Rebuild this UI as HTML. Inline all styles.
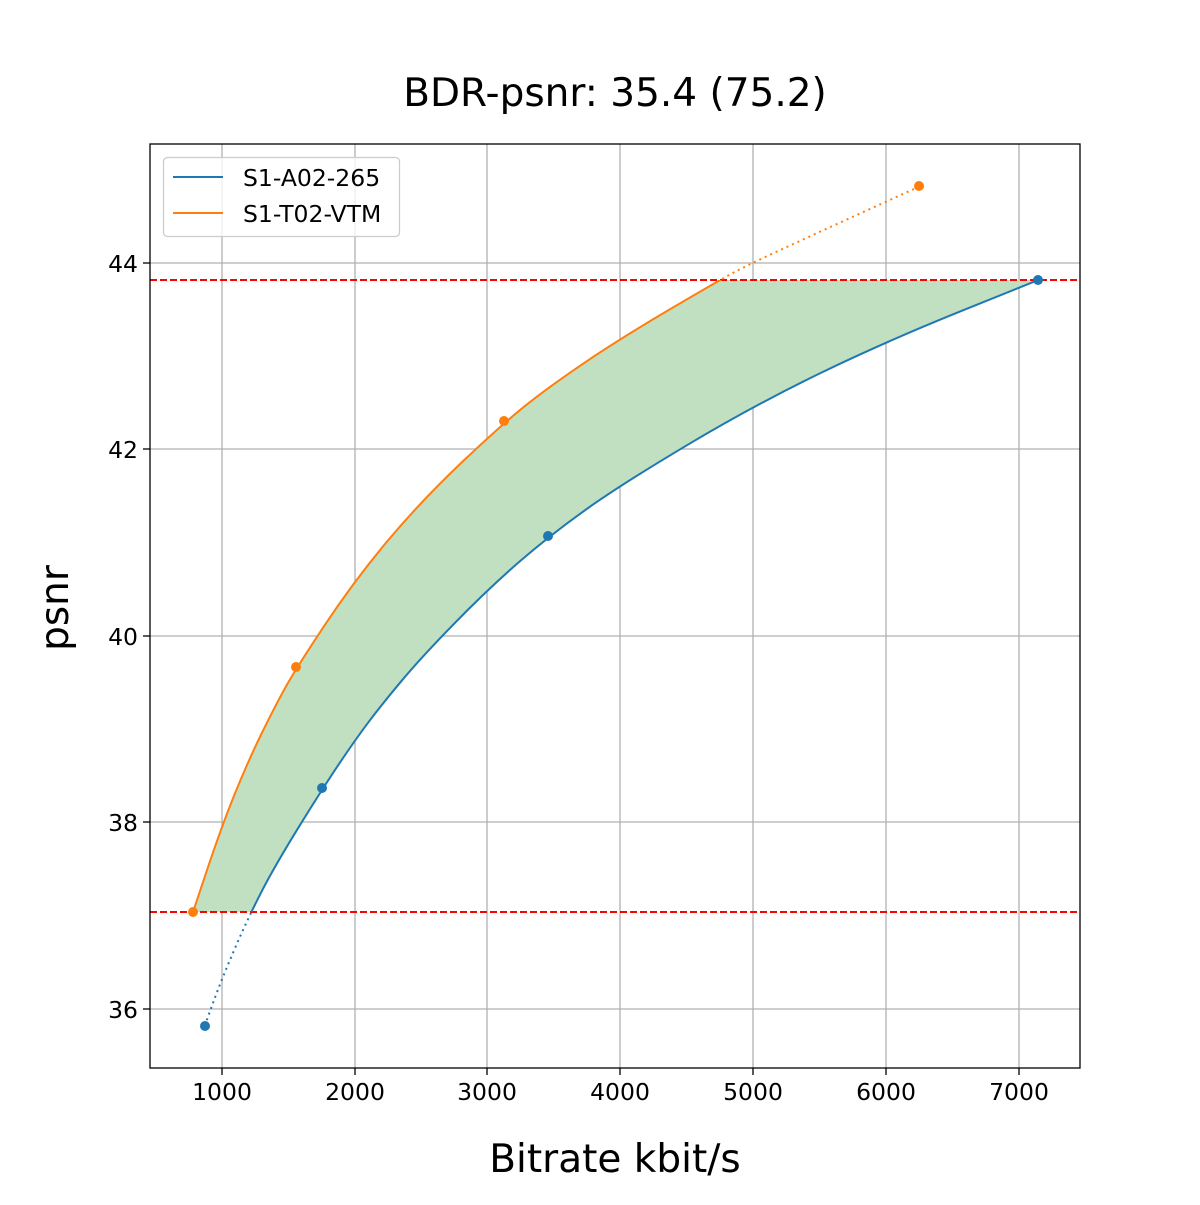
<!DOCTYPE html>
<html><head><meta charset="utf-8"><style>
html,body{margin:0;padding:0;background:#fff}
svg text{font-family:"DejaVu Sans","Liberation Sans",sans-serif;fill:#000}
</style></head><body>
<svg width="1200" height="1200" viewBox="0 0 1200 1200" xmlns="http://www.w3.org/2000/svg">
<defs>
<clipPath id="band"><rect x="150" y="280" width="930" height="632"/></clipPath>
<clipPath id="bsolid"><rect x="150" y="144" width="930" height="768"/></clipPath>
<clipPath id="bdot"><rect x="150" y="912" width="930" height="156"/></clipPath>
<clipPath id="osolid"><rect x="150" y="280" width="930" height="788"/></clipPath>
<clipPath id="odot"><rect x="150" y="144" width="930" height="136"/></clipPath>
<clipPath id="ax"><rect x="150" y="144" width="930" height="924"/></clipPath>
</defs>
<text x="615" y="106" font-size="39" text-anchor="middle">BDR-psnr: 35.4 (75.2)</text>
<g stroke="#b0b0b0" stroke-width="1.3">
<line x1="222" y1="144" x2="222" y2="1068"/><line x1="355" y1="144" x2="355" y2="1068"/>
<line x1="487" y1="144" x2="487" y2="1068"/><line x1="620" y1="144" x2="620" y2="1068"/>
<line x1="753" y1="144" x2="753" y2="1068"/><line x1="886" y1="144" x2="886" y2="1068"/>
<line x1="1019" y1="144" x2="1019" y2="1068"/>
<line x1="150" y1="1009" x2="1080" y2="1009"/><line x1="150" y1="822" x2="1080" y2="822"/>
<line x1="150" y1="636" x2="1080" y2="636"/><line x1="150" y1="449" x2="1080" y2="449"/>
<line x1="150" y1="263" x2="1080" y2="263"/>
</g>
<g clip-path="url(#ax)">
<path clip-path="url(#band)" fill="#c1e0c1" d="M193,912 L207.5,868.65 Q222,825.3 235.3,792.65 Q248.6,760 261.85,733 Q275.1,706 285.75,686.85 Q296.4,667.7 325.6,623.85 Q354.8,580 388,540.4 Q421.2,500.8 463.05,461.15 Q504.9,421.5 529.45,402.4 Q554,383.3 587.2,360.9 Q620.4,338.5 670.2,309.15 Q720,279.8 736.6,270.95 L1038.7,270 L1038.7,279.8 L962.35,310.55 Q886,341.3 819.6,373.5 Q753.2,405.7 686.8,445.3 Q620.4,484.9 584.55,510.55 Q548.7,536.2 518.15,562.8 Q487.6,589.4 454.4,623.4 Q421.2,657.4 401.3,681.2 Q381.4,705 368.1,722.7 Q354.8,740.4 338.85,764.2 Q322.9,788 299,826.7 Q275.1,865.4 261.85,891.05 Q248.6,916.7 235.3,947.45 Q222,978.2 213.35,1002 L204.7,1025.8 Z"/>
<line x1="150" y1="280" x2="1080" y2="280" stroke="#ff0000" stroke-width="2" stroke-dasharray="7,3"/>
<line x1="150" y1="912" x2="1080" y2="912" stroke="#ff0000" stroke-width="2" stroke-dasharray="7,3"/>
<g fill="none" stroke="#1f77b4" stroke-width="2">
<path clip-path="url(#bdot)" stroke-dasharray="2,4" d="M204.7,1025.8 L213.35,1002 Q222,978.2 235.3,947.45 Q248.6,916.7 261.85,891.05"/>
<path clip-path="url(#bsolid)" d="M204.7,1025.8 L213.35,1002 Q222,978.2 235.3,947.45 Q248.6,916.7 261.85,891.05 Q275.1,865.4 299,826.7 Q322.9,788 338.85,764.2 Q354.8,740.4 368.1,722.7 Q381.4,705 401.3,681.2 Q421.2,657.4 454.4,623.4 Q487.6,589.4 518.15,562.8 Q548.7,536.2 584.55,510.55 Q620.4,484.9 686.8,445.3 Q753.2,405.7 819.6,373.5 Q886,341.3 962.35,310.55 L1038.7,279.8"/>
</g>
<g fill="none" stroke="#ff7f0e" stroke-width="2">
<path clip-path="url(#odot)" stroke-dasharray="2,4" d="M670.2,309.15 Q720,279.8 736.6,270.95 Q753.2,262.1 836.2,224.35 L919.2,186.6"/>
<path clip-path="url(#osolid)" d="M193,912 L207.5,868.65 Q222,825.3 235.3,792.65 Q248.6,760 261.85,733 Q275.1,706 285.75,686.85 Q296.4,667.7 325.6,623.85 Q354.8,580 388,540.4 Q421.2,500.8 463.05,461.15 Q504.9,421.5 529.45,402.4 Q554,383.3 587.2,360.9 Q620.4,338.5 670.2,309.15 Q720,279.8 736.6,270.95"/>
</g>
<g fill="#1f77b4"><circle cx="205" cy="1026" r="5"/><circle cx="322" cy="788" r="5"/><circle cx="548" cy="536" r="5"/><circle cx="1038" cy="280" r="5"/></g>
<g fill="#ff7f0e"><circle cx="193" cy="912" r="5"/><circle cx="296" cy="667" r="5"/><circle cx="504" cy="421" r="5"/><circle cx="919" cy="186" r="5"/></g>
</g>
<rect x="150" y="144" width="930" height="924" fill="none" stroke="#000" stroke-width="1.3"/>
<g stroke="#000" stroke-width="1.3">
<line x1="222" y1="1068" x2="222" y2="1075"/><line x1="355" y1="1068" x2="355" y2="1075"/>
<line x1="487" y1="1068" x2="487" y2="1075"/><line x1="620" y1="1068" x2="620" y2="1075"/>
<line x1="753" y1="1068" x2="753" y2="1075"/><line x1="886" y1="1068" x2="886" y2="1075"/>
<line x1="1019" y1="1068" x2="1019" y2="1075"/>
<line x1="143" y1="1009" x2="150" y2="1009"/><line x1="143" y1="822" x2="150" y2="822"/>
<line x1="143" y1="636" x2="150" y2="636"/><line x1="143" y1="449" x2="150" y2="449"/>
<line x1="143" y1="263" x2="150" y2="263"/>
</g>
<g font-size="23.5" text-anchor="middle">
<text x="222" y="1100">1000</text><text x="355" y="1100">2000</text><text x="487" y="1100">3000</text>
<text x="620" y="1100">4000</text><text x="753" y="1100">5000</text><text x="886" y="1100">6000</text>
<text x="1019" y="1100">7000</text>
</g>
<g font-size="23.5" text-anchor="end">
<text x="138" y="1018">36</text><text x="138" y="831">38</text><text x="138" y="645">40</text>
<text x="138" y="458">42</text><text x="138" y="272">44</text>
</g>
<text x="615" y="1172" font-size="39" text-anchor="middle">Bitrate kbit/s</text>
<text x="0" y="0" font-size="39" text-anchor="middle" transform="translate(68,608) rotate(-90)">psnr</text>
<rect x="163.5" y="157.5" width="236" height="79" rx="4" fill="#fff" fill-opacity="0.8" stroke="#ccc" stroke-width="1.3"/>
<line x1="173" y1="177" x2="223" y2="177" stroke="#1f77b4" stroke-width="2"/>
<line x1="173" y1="213" x2="223" y2="213" stroke="#ff7f0e" stroke-width="2"/>
<text x="243" y="186" font-size="23.5">S1-A02-265</text>
<text x="243" y="222" font-size="23.5">S1-T02-VTM</text>
</svg>
</body></html>
